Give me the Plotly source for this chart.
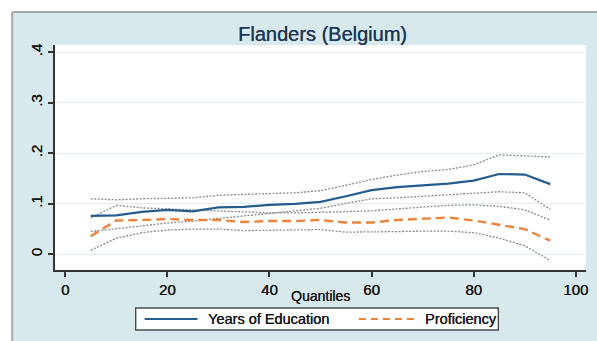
import plotly.graph_objects as go

# Quantile regression coefficients across the distribution (Flanders, Belgium)
quantiles = [5, 10, 15, 20, 25, 30, 35, 40, 45, 50, 55, 60, 65, 70, 75, 80, 85, 90, 95]

years_edu = [0.076, 0.077, 0.084, 0.088, 0.085, 0.093, 0.094, 0.098, 0.100, 0.104,
             0.115, 0.127, 0.133, 0.137, 0.140, 0.146, 0.159, 0.158, 0.139]
years_edu_upper = [0.110, 0.108, 0.110, 0.111, 0.112, 0.117, 0.119, 0.121, 0.122, 0.126,
                   0.137, 0.148, 0.157, 0.164, 0.168, 0.177, 0.197, 0.195, 0.193]
years_edu_lower = [0.045, 0.051, 0.057, 0.062, 0.066, 0.071, 0.075, 0.080, 0.085, 0.091,
                   0.101, 0.110, 0.112, 0.115, 0.117, 0.120, 0.124, 0.122, 0.089]

proficiency = [0.036, 0.067, 0.068, 0.070, 0.068, 0.068, 0.064, 0.066, 0.066, 0.068,
               0.063, 0.063, 0.068, 0.070, 0.073, 0.067, 0.059, 0.050, 0.027]
proficiency_upper = [0.072, 0.097, 0.092, 0.090, 0.087, 0.085, 0.083, 0.082, 0.082, 0.083,
                     0.084, 0.086, 0.090, 0.094, 0.097, 0.098, 0.095, 0.088, 0.068]
proficiency_lower = [0.008, 0.032, 0.043, 0.048, 0.050, 0.050, 0.047, 0.048, 0.049, 0.049,
                     0.044, 0.044, 0.045, 0.046, 0.046, 0.043, 0.032, 0.017, -0.012]

x_ticks = [0, 20, 40, 60, 80, 100]
y_ticks = [0, 0.1, 0.2, 0.3, 0.4]
y_tick_labels = ["0", ".1", ".2", ".3", ".4"]

series_names = ["Years of Education", "Proficiency"]

BLUE = "#245c8e"
ORANGE = "#e8843c"
CI_GRAY = "#8a8a8a"
FONT = "Liberation Sans, Arial, sans-serif"
TEXT = "#161616"
HEAVY = "0.35px 0 0 #161616"

W, H = 597, 341
ML, MR, MT, MB = 55, 9, 45, 71
PW, PH = W - ML - MR, H - MT - MB


def px_x(px):
    return (px - ML) / PW


def px_y(py):
    return (H - MB - py) / PH


def text_font(size):
    return dict(family=FONT, size=size, color=TEXT, shadow=HEAVY)


fig = go.Figure()

for band in (years_edu_upper, years_edu_lower, proficiency_upper, proficiency_lower):
    fig.add_trace(go.Scatter(
        x=quantiles, y=band, mode="lines",
        line=dict(color=CI_GRAY, width=1.3, dash="2px,1.5px"),
        hoverinfo="skip", showlegend=False,
    ))

fig.add_trace(go.Scatter(
    x=quantiles, y=years_edu, mode="lines", name=series_names[0],
    line=dict(color=BLUE, width=2.2), showlegend=False,
))
fig.add_trace(go.Scatter(
    x=quantiles, y=proficiency, mode="lines", name=series_names[1],
    line=dict(color=ORANGE, width=2.4, dash="9px,5px"), showlegend=False,
))

shapes = [
    # white margin strips outside the framed graph region
    dict(type="rect", xref="paper", yref="paper", x0=px_x(-5), x1=px_x(W + 5),
         y0=px_y(12), y1=px_y(-5), fillcolor="white", line=dict(width=0), layer="below"),
    dict(type="rect", xref="paper", yref="paper", x0=px_x(-5), x1=px_x(12),
         y0=px_y(H + 5), y1=px_y(-5), fillcolor="white", line=dict(width=0), layer="below"),
    # frame
    dict(type="line", xref="paper", yref="paper", x0=px_x(12), x1=px_x(W + 5),
         y0=px_y(12), y1=px_y(12), line=dict(color="#a9a9a9", width=2), layer="below"),
    dict(type="line", xref="paper", yref="paper", x0=px_x(12), x1=px_x(12),
         y0=px_y(12), y1=px_y(H + 5), line=dict(color="#a9a9a9", width=2), layer="below"),
    # legend box
    dict(type="rect", xref="paper", yref="paper", x0=px_x(136), x1=px_x(500),
         y0=px_y(330), y1=px_y(308), fillcolor="white", line=dict(color="#4a4a4a", width=1.4)),
    dict(type="line", xref="paper", yref="paper", x0=px_x(145), x1=px_x(198),
         y0=px_y(319), y1=px_y(319), line=dict(color=BLUE, width=1.8)),
    dict(type="line", xref="paper", yref="paper", x0=px_x(360), x1=px_x(417),
         y0=px_y(319), y1=px_y(319), line=dict(color=ORANGE, width=1.8, dash="7px,5px")),
]

annotations = [
    dict(text="Quantiles", xref="paper", yref="paper", x=0.5, y=px_y(296),
         xanchor="center", yanchor="middle", showarrow=False, font=text_font(14)),
    dict(text=series_names[0], xref="paper", yref="paper", x=px_x(207), y=px_y(319),
         xanchor="left", yanchor="middle", showarrow=False, font=text_font(14.5)),
    dict(text=series_names[1], xref="paper", yref="paper", x=px_x(424), y=px_y(319),
         xanchor="left", yanchor="middle", showarrow=False, font=text_font(14.5)),
]

fig.update_layout(
    width=W, height=H,
    margin=dict(l=ML, r=MR, t=MT, b=MB, pad=0),
    paper_bgcolor="#d8e9ed",
    plot_bgcolor="white",
    showlegend=False,
    font=dict(family=FONT, size=15, color=TEXT),
    title=dict(text="Flanders (Belgium)", xref="container", yref="container",
               x=322.5 / W, y=1 - 34 / H, xanchor="center", yanchor="middle",
               font=dict(family=FONT, size=20, color="#1d3858", shadow="0.3px 0 0 #1d3858")),
    shapes=shapes,
    annotations=annotations,
    xaxis=dict(range=[-2, 102], tickvals=x_ticks, ticks="outside", ticklen=5,
               tickwidth=1.5, tickcolor="#333333", showline=True, linecolor="#333333",
               linewidth=1.5, showgrid=False, zeroline=False,
               tickfont=text_font(15)),
    yaxis=dict(range=[-0.031, 0.4145], tickvals=y_ticks, ticktext=y_tick_labels,
               tickangle=-90, ticks="outside", ticklen=5, tickwidth=1.5,
               tickcolor="#333333", showline=True, linecolor="#333333", linewidth=1.5,
               showgrid=True, gridcolor="#e1edf1", gridwidth=1, zeroline=False,
               tickfont=text_font(15)),
)

fig.write_html("out.html")
